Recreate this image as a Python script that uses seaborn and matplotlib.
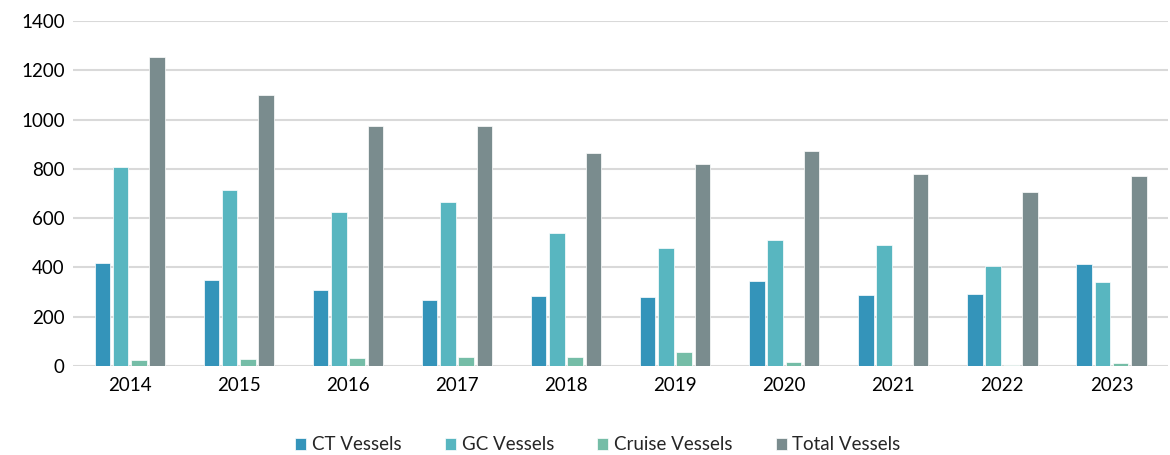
import pandas as pd
import numpy as np
import matplotlib
matplotlib.use("Agg")
import matplotlib.pyplot as plt
import seaborn as sns

years = ["2014", "2015", "2016", "2017", "2018", "2019", "2020", "2021", "2022", "2023"]
ct_vessels = [420, 351, 309, 268, 285, 279, 343, 289, 291, 413]
gc_vessels = [808, 714, 625, 667, 539, 478, 510, 491, 404, 341]
cruise_vessels = [23, 30, 34, 37, 38, 58, 16, 0, 5, 14]
total_vessels = [1256, 1100, 973, 976, 865, 820, 871, 781, 706, 772]

series_names = ["CT Vessels", "GC Vessels", "Cruise Vessels", "Total Vessels"]
colors = ["#3494BA", "#58B6C0", "#75BDA7", "#7A8C8E"]

# long format for seaborn
df = pd.DataFrame({
    "Year": years * 4,
    "Series": np.repeat(series_names, len(years)),
    "Value": ct_vessels + gc_vessels + cruise_vessels + total_vessels,
})

sns.set_style("white")
plt.rcParams["font.family"] = ["Lato", "DejaVu Sans"]

fig = plt.figure(figsize=(11.7, 4.55), dpi=100)
ax = fig.add_axes([0.0624, 0.1956, 0.936, 0.7582])

sns.barplot(data=df, x="Year", y="Value", hue="Series",
            palette=colors, saturation=1, width=0.67, gap=0.15,
            edgecolor="white", linewidth=0.5, ax=ax, zorder=3)

ax.set_ylim(0, 1400)
ax.set_yticks(range(0, 1401, 200))
ax.set_xlim(-0.52, len(years) - 0.48)
ax.grid(axis="y", color="#D9D9D9", linewidth=1.5, zorder=0)
for s in ["top", "right", "left", "bottom"]:
    ax.spines[s].set_visible(False)
ax.tick_params(axis="both", length=0, labelsize=13.5, colors="#000000")
ax.tick_params(axis="x", pad=8)
ax.tick_params(axis="y", pad=6)
ax.set_xlabel("")
ax.set_ylabel("")

handles, labels = ax.get_legend_handles_labels()
ax.get_legend().remove()
fig.legend(handles, labels, loc="center", bbox_to_anchor=(0.511, 0.022), ncol=4,
           frameon=False, fontsize=13.5, handlelength=0.6, handleheight=0.6,
           handletextpad=0.3, columnspacing=2.3)

fig.savefig("out.png", dpi=100)
